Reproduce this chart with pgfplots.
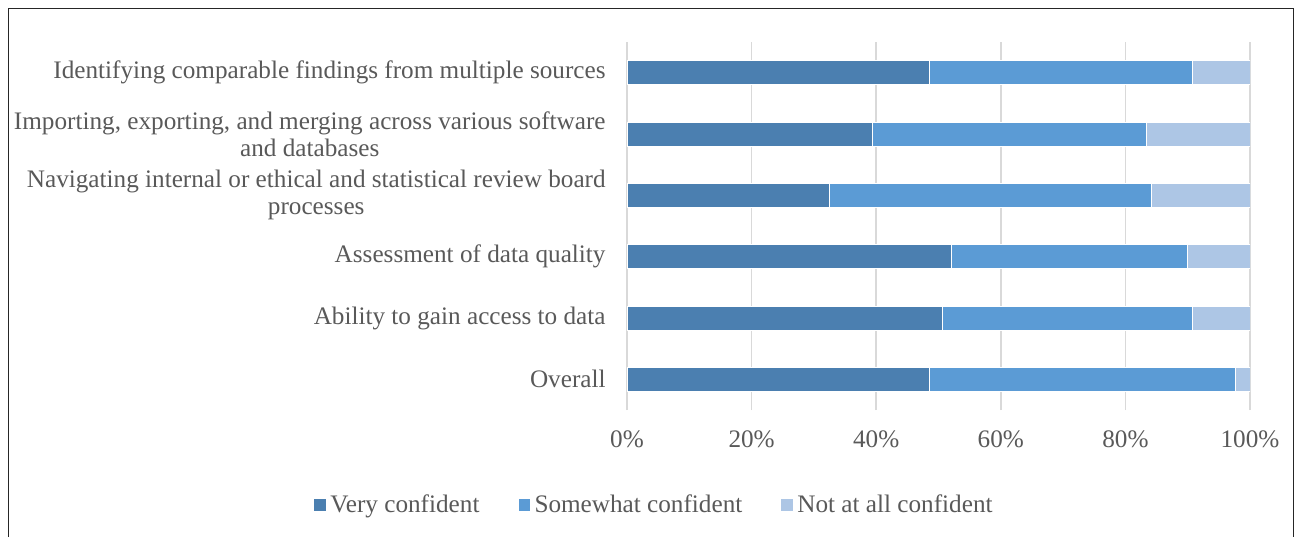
\documentclass[border=0pt]{standalone}
\usepackage{pgfplots}
\pgfplotsset{compat=1.18}
\usepackage{fontspec}
\setmainfont{Liberation Serif}

\definecolor{vconf}{HTML}{4B7FB0}
\definecolor{sconf}{HTML}{5B9BD5}
\definecolor{nconf}{HTML}{ADC6E5}
\definecolor{txt}{HTML}{595959}
\definecolor{grd}{HTML}{D9D9D9}

\begin{document}
\begin{tikzpicture}
% 1 px of the reference = 0.5pt
\begin{axis}[
  at={(313.5pt,63.5pt)}, anchor=south west,
  scale only axis,
  width=311.5pt, height=184pt,
  xbar stacked,
  bar width=12pt,
  xmin=0, xmax=100,
  ymin=-0.5, ymax=5.5,
  xtick={0,20,40,60,80,100},
  xticklabels={0\%,20\%,40\%,60\%,80\%,100\%},
  ytick={0,1,2,3,4,5},
  yticklabels={Overall, Ability to gain access to data, Assessment of data quality,
    {Navigating internal or ethical and statistical review board\\processes},
    {Importing, exporting, and merging across various software\\and databases},
    Identifying comparable findings from multiple sources},
  xmajorgrids,
  grid style={draw=grd, line width=0.75pt},
  axis line style={draw=none},
  major tick length=0pt,
  tick label style={font=\fontsize{12.6}{13.5}\selectfont, text=txt},
  yticklabel style={align=center, inner sep=0pt, xshift=-10.5pt},
  xticklabel style={inner sep=0pt, yshift=-10pt},
  legend style={at={(rel axis cs:0.045,-0.258)}, anchor=center, draw=none,
    legend columns=3, font=\fontsize{12.6}{13.5}\selectfont, text=txt,
    /tikz/every even column/.append style={column sep=17pt},
    inner sep=0pt},
  legend image code/.code={\fill[#1] (0pt,-3.1pt) rectangle (6.2pt,3.1pt);},
]
\addplot[fill=vconf, draw=white, line width=0.3pt] coordinates {(48.5,0) (50.6,1) (52.1,2) (32.5,3) (39.4,4) (48.5,5)};
\addlegendentry{Very confident}
\addplot[fill=sconf, draw=white, line width=0.3pt] coordinates {(49.1,0) (40.1,1) (37.9,2) (51.6,3) (44.0,4) (42.2,5)};
\addlegendentry{Somewhat confident}
\addplot[fill=nconf, draw=white, line width=0.3pt] coordinates {(2.4,0) (9.3,1) (10.0,2) (15.9,3) (16.6,4) (9.3,5)};
\addlegendentry{Not at all confident}
\end{axis}
\draw[black!85, line width=0.7pt] (4.25pt,0pt) -- (4.25pt,264.25pt) -- (646.75pt,264.25pt) -- (646.75pt,0pt);
\pgfresetboundingbox
\path[use as bounding box] (0pt,0pt) rectangle (647.5pt,268.5pt);
\end{tikzpicture}
\end{document}
